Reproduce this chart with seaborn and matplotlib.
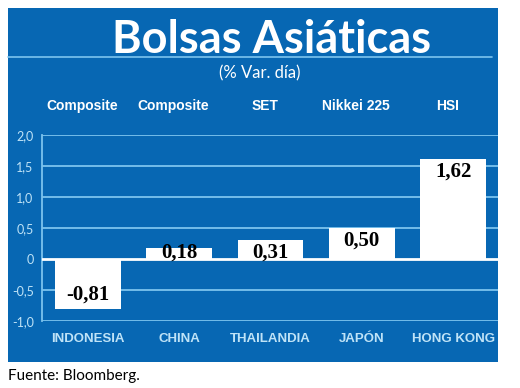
import matplotlib
matplotlib.use("Agg")
import matplotlib.pyplot as plt
import matplotlib.transforms as mtransforms
from matplotlib.patches import Rectangle
from matplotlib.lines import Line2D
import pandas as pd
import seaborn as sns

# data
countries = ["INDONESIA", "CHINA", "THAILANDIA", "JAPÓN", "HONG KONG"]
indices = ["Composite", "Composite", "SET", "Nikkei 225", "HSI"]
values = [-0.81, 0.18, 0.31, 0.50, 1.62]
value_labels = ["-0,81", "0,18", "0,31", "0,50", "1,62"]
y_ticks = [-1.0, -0.5, 0, 0.5, 1.0, 1.5, 2.0]
y_tick_labels = ["-1,0", "-0,5", "0", "0,5", "1,0", "1,5", "2,0"]

BLUE = "#0767b3"
GRID = "#7cc4ee"
LIGHT = "#bfe3f7"

sns.set_theme(style="white")
plt.rcParams["font.family"] = ["Lato", "DejaVu Sans"]

W, H = 520, 388
fig = plt.figure(figsize=(W / 100, H / 100), dpi=100)

def fx(px):
    return px / W

def fy(py):
    return 1 - py / H

# blue panel (drawn under the axes)
fig.patches.append(Rectangle((fx(8), fy(362)), fx(498) - fx(8), fy(8) - fy(362),
                             transform=fig.transFigure, facecolor=BLUE, edgecolor="none", zorder=-2))
fig.lines.append(Line2D([fx(8), fx(492)], [fy(57), fy(57)], transform=fig.transFigure,
                        color=GRID, linewidth=1.2, zorder=-1))

fig.text(fx(272), fy(53), "Bolsas Asiáticas", color="white", fontsize=32.5, fontweight="bold",
         ha="center", va="baseline")
fig.text(fx(260), fy(73), "(% Var. día)", color="white", fontsize=12, ha="center", va="center")
fig.text(fx(8), fy(376), "Fuente: Bloomberg.", color="black", fontsize=11, ha="left", va="center")

ax = fig.add_axes([fx(42), fy(321), fx(498) - fx(42), fy(135) - fy(321)])
ax.patch.set_visible(False)

df = pd.DataFrame({"pais": countries, "var": values})
sns.barplot(data=df, x="pais", y="var", color="white", width=0.72, saturation=1,
            edgecolor="none", ax=ax, zorder=3)

ax.set_ylim(-1.0, 2.0)
ax.set_xlim(-0.5, 4.49)
ax.set_yticks(y_ticks)
ax.set_yticklabels(y_tick_labels, color=LIGHT, fontsize=9)
ax.set_xticks(range(len(countries)))
ax.set_xticklabels(countries, color=LIGHT, fontsize=9.5, fontweight="bold",
                   family=["Liberation Sans", "DejaVu Sans"])
ax.tick_params(axis="both", length=0)
ax.tick_params(axis="x", pad=9)
ax.tick_params(axis="y", pad=6)
ax.set_xlabel("")
ax.set_ylabel("")
for yt in y_ticks:
    if yt != 0:
        ax.axhline(yt, color=GRID, linewidth=1.3, zorder=1)
ax.axhline(0, color="white", linewidth=2, zorder=4)
for s in ["top", "right", "bottom"]:
    ax.spines[s].set_visible(False)
ax.spines["left"].set_color(GRID)
ax.spines["left"].set_linewidth(1.3)

# value labels inside the bars
for i, (v, lab) in enumerate(zip(values, value_labels)):
    if v >= 0:
        ax.annotate(lab, (i, max(v, 0.31)), xytext=(0, -2), textcoords="offset points",
                    ha="center", va="top", fontsize=15, fontweight="bold", color="black",
                    family=["Liberation Serif", "DejaVu Serif"], zorder=5)
    else:
        ax.annotate(lab, (i, v), xytext=(0, 3), textcoords="offset points",
                    ha="center", va="bottom", fontsize=15, fontweight="bold", color="black",
                    family=["Liberation Serif", "DejaVu Serif"], zorder=5)

# index names above the plot
trans = mtransforms.blended_transform_factory(ax.transData, fig.transFigure)
for i, name in enumerate(indices):
    ax.text(i - 0.06, fy(106), name, transform=trans, ha="center", va="center", color="white",
            fontsize=10, fontweight="bold", family=["Liberation Sans", "DejaVu Sans"])

fig.savefig("out.png", dpi=100)
